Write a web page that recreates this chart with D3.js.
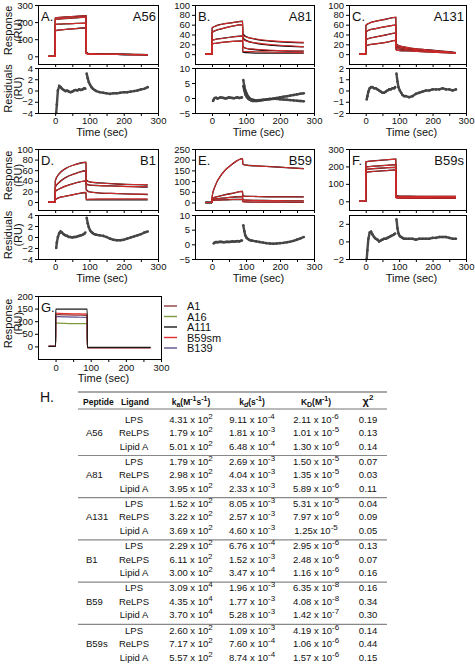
<!DOCTYPE html>
<html><head><meta charset="utf-8">
<script src="https://cdn.jsdelivr.net/npm/d3@7"></script>
<style>body{margin:0;background:#fff} svg text{font-family:"Liberation Sans",Arial,sans-serif;fill:#111}</style>
</head><body><svg id="c" width="475" height="666"></svg>
<script>
// ---------- DATA ----------
const sgTime = [-20,0,0.5,10,30,60,90,90.5,100,130,180,230,270];
// Panel A (A56)
const fitA = [
 [0,0,150,153,157,162,167,18,15,13,12,11,10],
 [0,0,187,188,190,192,194,17,14,12,11,10,9],
 [0,0,215,218,221,225,229,16,13,12,11,10,9],
 [0,0,224,227,230,234,237,15,13,12,11,10,9]];
const obsA = [
 [0,0,150,153,157,162,167,22,15,13,12,11,10],
 [0,0,187,188,190,192,194,21,14,12,11,10,9],
 [0,0,215,218,221,225,229,20,13,12,11,10,9],
 [0,0,224,227,230,234,237,20,14,12,11,10,10]];
// Panel B (A81)
const fitB = [
 [0,0,54,57,61,64,67,38,35,31,27,25,24],
 [0,0,44,48,52,57,60,30,27,23,19,17,15],
 [0,0,28,30,32,35,37,14,12,10,8,7,6],
 [0,0,21,22,24,26,27,6,5.5,5,4,3.5,3]];
const obsB = [
 [0,0,53,57,61,64,67,42,36,30,26,24,23],
 [0,0,44,48,52,57,60,34,28,22,18,16,15],
 [0,0,28,30,32,35,37,16,12,9,7,6,6],
 [0,0,21,22,24,26,27,4,3,2,2,2,2]];
// Panel C (A131)
const fitC = [
 [0,0,59,63,67,71,75,20,17,13,9,6,3],
 [0,0,46,49,52,56,59,16,14,11,7.5,5,3],
 [0,0,30,32,35,39,43,12,11,8.5,6,4,2.5],
 [0,0,17,19,21,24,28,8,7.5,6.5,4.5,3,2]];
const obsC = [
 [0,0,58,63,67,71,75,22,17,13,9,6,3],
 [0,0,45,49,52,56,59,18,14,11,7.5,5,3],
 [0,0,29,32,35,39,43,14,11,8.5,6,4,2.5],
 [0,0,16,19,21,24,28,10,7.5,6.5,4.5,3,2]];
// Panel D (B1)
const fitD = [
 [0,0,41,52,63,71,75,40,38,36,34,33,33],
 [0,0,29,36,46,54,59,33,32,31,30,29,29],
 [0,0,21,24,30,36,40,22,19,17,16,15,15],
 [0,0,5,8,11,15,18,5,5.5,6,6,6,6]];
const obsD = [
 [0,0,40,52,63,71,75,42,38,36,34,33,32],
 [0,0,28,36,46,54,59,35,32,31,30,29,28],
 [0,0,20,24,30,36,40,24,19,17,16,15,14],
 [0,0,4,8,11,15,18,4,4,4,4,4,4]];
// Panel E (B59)
const fitE = [
 [0,0,30,80,135,180,205,178,175,171,167,162,158],
 [0,0,20,25,33,43,52,30,29,28,27,27,26],
 [0,0,15,17,20,25,28,12,11,10,9,8,8],
 [0,0,10,11,12,14,15,3,3,2,2,1,1]];
const obsE = [
 [0,0,28,80,135,180,205,180,175,171,167,162,158],
 [0,0,19,25,33,43,52,32,29,28,27,27,26],
 [0,0,14,17,20,25,28,14,11,10,9,8,8],
 [0,0,9,11,12,14,15,5,3,2,2,1,1]];
// Panel F (B59s)
const fitF = [
 [0,0,228,230,233,238,242,30,29,29,28,28,28],
 [0,0,197,199,202,206,210,27,26,26,25,25,25],
 [0,0,183,185,188,192,195,23,22,21,21,20,20],
 [0,0,167,169,172,176,180,18,18,17,17,17,17]];
const obsF = [
 [0,0,226,230,233,238,242,34,29,29,28,28,28],
 [0,0,195,199,202,206,210,31,26,26,25,25,25],
 [0,0,181,185,188,192,195,27,22,21,21,20,20],
 [0,0,165,169,172,176,180,22,18,17,17,17,17]];

// Residuals
const resTime = [3,5,8,12,16,20,25,30,35,40,45,50,55,60,65,70,75,80,85,88,90,92,95,98,102,106,110,115,120,130,140,150,160,170,180,190,200,210,220,230,240,250,260,270];
const resA = [[-4,-2.5,0,0.8,0.6,0.3,0.1,-0.1,0,-0.2, -0.3,-0.2,0,0.1,0,0.2,0.1,0.2,0.4,0.3, null, 3,2.2,1.5,1,0.6,0.3,0.1,-0.1, -0.3,-0.4,-0.5,-0.6,-0.5,-0.5,-0.4,-0.3,-0.3,-0.2, -0.1,0,0.2,0.3,0.6]];
const resB = [
 [-1,-0.5,0,0.1,-0.2,0,0.2,0.1,0,-0.2, 0,0.2,0.1,0,-0.1,0.1,0.2,0,0.1,0.2, null, 6,4,2.5,1.5,0.6,0,-0.4,-0.6, -0.8,-0.7,-0.6,-0.5,-0.3,-0.2,0,0.2,0.4,0.6, 0.8,1,1.2,1.4,1.6],
 [null,null,null,null,null,null,null,null,null,null, null,null,null,null,null,null,null,null,null,null, null, 4,2.5,1.2,0.4,-0.2,-0.5,-0.8,-1, -1,-0.9,-0.7,-0.5,-0.4,-0.3,-0.3,-0.4,-0.5,-0.6, -0.7,-0.8,-0.9,-1,-1.1]];
const resC = [[-0.8,-0.5,-0.1,0.2,0.3,0.3,0.2,0.2,0.1,0, -0.1,-0.2,-0.2,-0.1,0,0.1,0.1,0.2,0.2,0.3, null, 1.5,0.8,0.3,0,-0.2,-0.4,-0.5,-0.5, -0.6,-0.5,-0.3,-0.2,-0.1,0,0,0.1,0.1,0.1, 0.2,0.1,0.1,0,0.1]];
const resD = [[-2,-1,0,0.7,1,0.8,0.5,0.3,0.2,0, 0,-0.1,0,0,0.1,0.2,0.3,0.4,0.6,0.8, null, 3.5,2.5,1.8,1.2,0.9,0.7,0.5,0.4, 0.3,0.2,0,-0.3,-0.5,-0.6,-0.6,-0.5,-0.3,-0.1, 0.1,0.3,0.5,0.8,1]];
const resE = [[null,0.3,0.6,0.8,0.7,0.8,0.9,0.8,0.7,0.8, 0.9,0.8,0.9,1,0.9,1,1.1,1,1.2,1.3, null, 6.5,4.5,3,2.2,1.8,1.5,1.3,1.2, 1,0.8,0.6,0.4,0.3,0.2,0.3,0.4,0.5,0.7, 0.9,1.2,1.6,2,2.5]];
const resF = [[-2,-1,0.3,1,1.1,0.8,0.5,0.3,0.2,0, 0.1,0.2,0.3,0.3,0.4,0.5,0.6,0.7,0.8,0.9, null, 2.5,1.5,0.9,0.6,0.5,0.4,0.3,0.3, 0.3,0.3,0.2,0.3,0.3,0.3,0.3,0.4,0.4,0.5, 0.5,0.5,0.4,0.3,0.3]];

// Panel G
const gSeries = ["A1","A16","A111","B59sm","B139"];
const gColors = ["#8e3b3b","#7d9a3c","#1a1a1a","#e3302e","#5d4f8e"];
const gValues = [
 [0,0,126,126,125,124,123,-5,-5,-5,-5,-5,-5],
 [0,0,92,92,91,90,90,-5,-5,-5,-5,-5,-5],
 [0,0,148,148,148,148,148,-4,-4,-4,-4,-4,-4],
 [0,0,132,131,130,129,128,-5,-5,-5,-5,-5,-5],
 [0,0,118,118,117,116,115,-5,-5,-5,-5,-5,-5]];

// Table
const peptides = ["A56","A81","A131","B1","B59","B59s"];
const ligands = ["LPS","ReLPS","Lipid A"];
const kaVals = ["4.31 x 10^2","1.79 x 10^2","5.01 x 10^2","1.79 x 10^2","2.98 x 10^2","3.95 x 10^2","1.52 x 10^2","3.22 x 10^2","3.69 x 10^2","2.29 x 10^2","6.11 x 10^2","3.00 x 10^2","3.09 x 10^4","4.35 x 10^4","3.70 x 10^4","2.60 x 10^2","7.17 x 10^2","5.57 x 10^2"];
const kdVals = ["9.11 x 10^-4","1.81 x 10^-3","6.48 x 10^-4","2.69 x 10^-3","4.04 x 10^-3","2.33 x 10^-3","8.05 x 10^-3","2.57 x 10^-3","4.60 x 10^-3","6.76 x 10^-4","1.52 x 10^-3","3.47 x 10^-4","1.96 x 10^-3","1.77 x 10^-3","5.28 x 10^-3","1.09 x 10^-3","7.60 x 10^-4","8.74 x 10^-4"];
const KDVals = ["2.11 x 10^-6","1.01 x 10^-5","1.30 x 10^-6","1.50 x 10^-5","1.35 x 10^-5","5.89 x 10^-6","5.31 x 10^-5","7.97 x 10^-6","1.25x 10^-5","2.95 x 10^-6","2.48 x 10^-6","1.16 x 10^-6","6.35 x 10^-8","4.08 x 10^-8","1.42 x 10^-7","4.19 x 10^-6","1.06 x 10^-6","1.57 x 10^-6"];
const chi2Vals = ["0.19","0.13","0.14","0.07","0.03","0.11","0.04","0.09","0.05","0.13","0.07","0.16","0.16","0.34","0.30","0.14","0.44","0.15"];

// ---------- DRAW ----------
const svg = d3.select("#c");
const FIT = "#d02a2a";
let clipId = 0;
const fmt = d3.format("d");

function styleAxis(sel){
  sel.attr("font-family",null).attr("font-size",null);
  sel.selectAll("text").attr("font-size",9.5).attr("fill","#111");
  sel.selectAll("line").attr("stroke","#000");
  sel.select(".domain").remove();
}
function clip(x0,y0,x1,y1){
  const id="cl"+(clipId++);
  svg.append("clipPath").attr("id",id).append("rect").attr("x",x0).attr("y",y0).attr("width",x1-x0).attr("height",y1-y0);
  return "url(#"+id+")";
}
function frame(x0,y0,x1,y1){
  svg.append("rect").attr("x",x0+0.5).attr("y",y0+0.5).attr("width",x1-x0).attr("height",y1-y0)
    .attr("fill","none").attr("stroke","#000").attr("stroke-width",1);
}
function yLabel(lines, cy){
  lines.forEach((t,i)=>{
    svg.append("text").attr("transform",`translate(${12+i*10},${cy}) rotate(-90)`)
      .attr("text-anchor","middle").attr("font-size",11).text(t);
  });
}

function drawPanel(p){
  const x = d3.scaleLinear().domain([-50,300]).range([p.x0,p.x1]);
  const y = d3.scaleLinear().domain(p.yDom).range([p.y1,p.y0]);
  const line = d3.line().x((d,i)=>x(sgTime[i])).y(d=>y(d)).curve(d3.curveMonotoneX);
  const cp = clip(p.x0,p.y0,p.x1,p.y1);
  const g = svg.append("g").attr("clip-path",cp);
  (p.obs||[]).forEach(s=>g.append("path").attr("d",line(s)).attr("fill","none").attr("stroke","#111").attr("stroke-width",1.3));
  (p.fit||[]).forEach(s=>g.append("path").attr("d",line(s)).attr("fill","none").attr("stroke",FIT).attr("stroke-width",1.1));
  (p.series||[]).forEach((s,k)=>g.append("path").attr("d",line(s)).attr("fill","none").attr("stroke",p.colors[k]).attr("stroke-width",1.2));
  frame(p.x0,p.y0,p.x1,p.y1);
  svg.append("g").attr("transform",`translate(${p.x0},0)`)
    .call(d3.axisLeft(y).tickValues(p.yTicks).tickSize(3).tickPadding(2).tickFormat(fmt)).call(styleAxis);
  const hasRes = !!p.res;
  svg.append("g").attr("transform",`translate(0,${p.y1})`)
    .call(d3.axisBottom(x).tickValues([0,50,100,150,200,250,300]).tickSize(3).tickPadding(2)
      .tickFormat(d=> hasRes ? "" : (d%100===0?d:""))).call(styleAxis);
  svg.append("text").attr("x",p.x0+3).attr("y",p.y0+16).attr("font-size",13).text(p.letter);
  if(p.name) svg.append("text").attr("x",p.x1-2).attr("y",p.y0+16).attr("font-size",13).attr("text-anchor","end").text(p.name);
  if(p.yLab) yLabel(["Response","(RU)"],(p.y0+p.y1)/2-4);
  let axisBottomY = p.y1;
  if(hasRes){
    const yr = d3.scaleLinear().domain(p.resDom).range([p.r1,p.r0]);
    const rl = d3.line().defined(d=>d!=null).x((d,i)=>x(resTime[i])).y(d=>yr(d)).curve(d3.curveLinear);
    const cp2 = clip(p.x0,p.r0,p.x1,p.r1);
    const g2 = svg.append("g").attr("clip-path",cp2);
    p.res.forEach(s=>{
      g2.append("path").attr("d",rl(s)).attr("fill","none").attr("stroke","#2a2a2a").attr("stroke-width",2.4).attr("stroke-opacity",0.85);
      g2.selectAll(null).data(s.map((v,i)=>[resTime[i],v]).filter(d=>d[1]!=null)).enter().append("circle")
        .attr("cx",d=>x(d[0])).attr("cy",d=>yr(d[1])).attr("r",1.3).attr("fill","#444");
    });
    frame(p.x0,p.r0,p.x1,p.r1);
    svg.append("g").attr("transform",`translate(${p.x0},0)`)
      .call(d3.axisLeft(yr).tickValues(p.resTicks).tickSize(3).tickPadding(2).tickFormat(fmt)).call(styleAxis);
    svg.append("g").attr("transform",`translate(0,${p.r1})`)
      .call(d3.axisBottom(x).tickValues([0,50,100,150,200,250,300]).tickSize(3).tickPadding(1)
        .tickFormat(d=>d%100===0?d:"")).call(styleAxis);
    if(p.yLab) yLabel(["Residuals","(RU)"],(p.r0+p.r1)/2-2);
    axisBottomY = p.r1;
  }
  svg.append("text").attr("x",(p.x0+p.x1)/2+4).attr("y",axisBottomY+23).attr("text-anchor","middle")
    .attr("font-size",11).text("Time (sec)");
}

const row1 = {y0:5,y1:64,r0:68,r1:113};
const row2 = {y0:149,y1:210,r0:215,r1:259};
const colsX = [[38,158],[195,314],[349,466]];

drawPanel({...row1,x0:colsX[0][0],x1:colsX[0][1],letter:"A.",name:"A56",yDom:[-45,300],yTicks:[0,100,200,300],
  fit:fitA,obs:obsA,res:resA,resDom:[-4,4],resTicks:[-4,-2,0,2,4],yLab:true});
drawPanel({...row1,x0:colsX[1][0],x1:colsX[1][1],letter:"B.",name:"A81",yDom:[-20,100],yTicks:[0,20,40,60,80,100],
  fit:fitB,obs:obsB,res:resB,resDom:[-5,10],resTicks:[-5,0,5,10]});
drawPanel({...row1,x0:colsX[2][0],x1:colsX[2][1],letter:"C.",name:"A131",yDom:[-20,100],yTicks:[0,20,40,60,80,100],
  fit:fitC,obs:obsC,res:resC,resDom:[-2,2],resTicks:[-2,-1,0,1,2]});
drawPanel({...row2,x0:colsX[0][0],x1:colsX[0][1],letter:"D.",name:"B1",yDom:[-15,100],yTicks:[0,20,40,60,80,100],
  fit:fitD,obs:obsD,res:resD,resDom:[-4,4],resTicks:[-4,-2,0,2,4],yLab:true});
drawPanel({...row2,x0:colsX[1][0],x1:colsX[1][1],letter:"E.",name:"B59",yDom:[-35,250],yTicks:[0,50,100,150,200,250],
  fit:fitE,obs:obsE,res:resE,resDom:[-5,10],resTicks:[-5,0,5,10]});
drawPanel({...row2,x0:colsX[2][0],x1:colsX[2][1],letter:"F.",name:"B59s",yDom:[-50,300],yTicks:[0,100,200,300],
  fit:fitF,obs:obsF,res:resF,resDom:[-2,3],resTicks:[-2,0,2]});
drawPanel({x0:38,x1:161,y0:296,y1:359,letter:"G.",yDom:[-50,200],yTicks:[0,50,100,150,200],
  series:[gValues[1],gValues[4],gValues[0],gValues[3],gValues[2]],
  colors:[gColors[1],gColors[4],gColors[0],gColors[3],gColors[2]],yLab:true});

// legend G
gSeries.forEach((s,i)=>{
  const yy = 306 + i*10.5;
  svg.append("line").attr("x1",164).attr("x2",177).attr("y1",yy).attr("y2",yy).attr("stroke",gColors[i]).attr("stroke-width",1.4);
  svg.append("text").attr("x",187).attr("y",yy+4).attr("font-size",11).text(s);
});

// ---------- TABLE ----------
const T = svg.append("g");
T.append("text").attr("x",40).attr("y",402).attr("font-size",14).text("H.");
const colX = {pep:84, lig:134, ka:191, kd:252, KD:316, chi:368};
const tx0 = 78, tx1 = 387;
T.append("line").attr("x1",tx0).attr("x2",tx1).attr("y1",392).attr("y2",392).attr("stroke","#555").attr("stroke-width",1.2);
T.append("line").attr("x1",tx0).attr("x2",tx1).attr("y1",409).attr("y2",409).attr("stroke","#777").attr("stroke-width",1.2);
const hy = 405;
function hdr(x){ return T.append("text").attr("x",x).attr("y",hy).attr("font-size",8.5).attr("font-weight","bold").attr("text-anchor","middle"); }
T.append("text").attr("x",colX.pep-1).attr("y",hy).attr("font-size",8.5).attr("font-weight","bold").text("Peptide");
hdr(colX.lig+1).text("Ligand");
{ const t=hdr(colX.ka); t.append("tspan").text("k"); t.append("tspan").attr("dy",2).attr("font-size",7).text("a");
  t.append("tspan").attr("dy",-2).text("(M"); t.append("tspan").attr("dy",-4).attr("font-size",7).text("-1");
  t.append("tspan").attr("dy",4).text("s"); t.append("tspan").attr("dy",-4).attr("font-size",7).text("-1");
  t.append("tspan").attr("dy",4).text(")"); }
{ const t=hdr(colX.kd); t.append("tspan").text("k"); t.append("tspan").attr("dy",2).attr("font-size",7).attr("font-style","italic").text("d");
  t.append("tspan").attr("dy",-2).text("(s"); t.append("tspan").attr("dy",-4).attr("font-size",7).text("-1");
  t.append("tspan").attr("dy",4).text(")"); }
{ const t=hdr(colX.KD); t.append("tspan").text("K"); t.append("tspan").attr("dy",2).attr("font-size",7).text("D");
  t.append("tspan").attr("dy",-2).text("(M"); t.append("tspan").attr("dy",-4).attr("font-size",7).text("-1");
  t.append("tspan").attr("dy",4).text(")"); }
{ const t=hdr(colX.chi); t.attr("font-size",11).append("tspan").text("χ"); t.append("tspan").attr("dy",-5).attr("font-size",8).text("2"); }

function sciText(x,y,str){
  const parts = str.split("^");
  const t = T.append("text").attr("x",x).attr("y",y).attr("font-size",9.5).attr("text-anchor","middle");
  t.append("tspan").text(parts[0]);
  t.append("tspan").attr("dy",-4).attr("font-size",8).text(parts[1]);
}
const groupStep = 42.2, rowStep = 13.5, firstRow = 422.5;
peptides.forEach((pep,g)=>{
  const base = firstRow + g*groupStep;
  T.append("text").attr("x",colX.pep+2).attr("y",base+rowStep).attr("font-size",9.5).text(pep);
  ligands.forEach((lig,r)=>{
    const yy = base + r*rowStep;
    const k = g*3+r;
    T.append("text").attr("x",colX.lig).attr("y",yy).attr("font-size",9.5).attr("text-anchor","middle").text(lig);
    sciText(colX.ka,yy,kaVals[k]);
    sciText(colX.kd,yy,kdVals[k]);
    sciText(colX.KD,yy,KDVals[k]);
    T.append("text").attr("x",colX.chi).attr("y",yy).attr("font-size",9.5).attr("text-anchor","middle").text(chi2Vals[k]);
  });
  const sy = base + 2*rowStep + 6;
  T.append("line").attr("x1",tx0).attr("x2",tx1).attr("y1",sy).attr("y2",sy).attr("stroke",g===5?"#555":"#888").attr("stroke-width",1.2);
});
</script></body></html>
